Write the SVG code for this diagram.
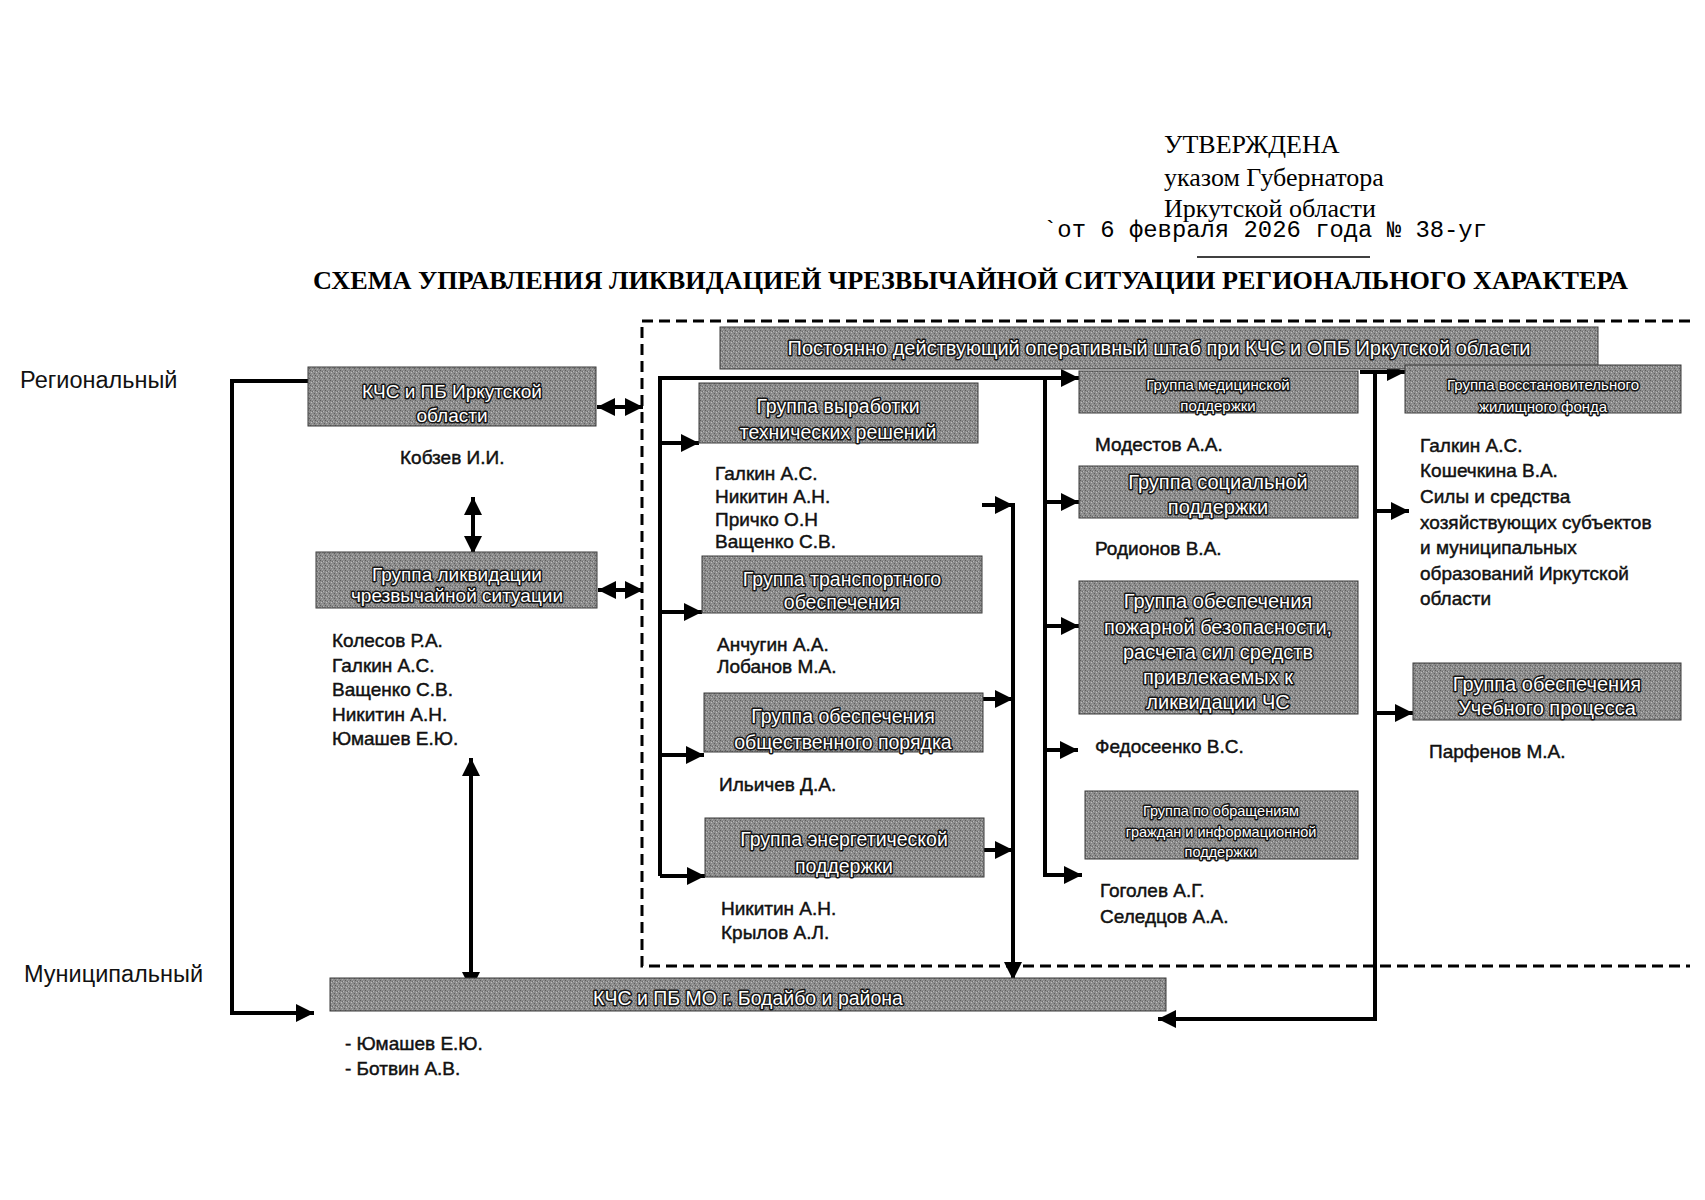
<svg xmlns="http://www.w3.org/2000/svg" width="1705" height="1200" viewBox="0 0 1705 1200">
<style>
.bg{fill:#fff}
.box{fill:url(#grain);stroke:#3a3a3a;stroke-width:1}
.bt{font-family:"Liberation Sans",Arial,sans-serif;fill:#fff;stroke:#151515;stroke-width:3;paint-order:stroke;stroke-linejoin:round;text-anchor:middle}
.nm{font-family:"Liberation Sans",Arial,sans-serif;font-size:19px;fill:#111;stroke:#111;stroke-width:0.45}
.lvl{font-family:"Liberation Sans",Arial,sans-serif;font-size:23.5px;fill:#111}
.hd{font-family:"Liberation Serif","Times New Roman",serif;font-size:26px;fill:#000}
.ln{fill:none;stroke:#000;stroke-width:4}
.ar{marker-end:url(#ah)}
.da{marker-start:url(#ah);marker-end:url(#ah)}
.dash{fill:none;stroke:#000;stroke-width:3;stroke-dasharray:11 6}
</style>
<defs>
<marker id="ah" viewBox="0 0 18 18" refX="18" refY="9" markerWidth="18" markerHeight="18" markerUnits="userSpaceOnUse" orient="auto-start-reverse">
<path d="M0,0 L18,9 L0,18 z" fill="#000"/>
</marker>
<pattern id="grain" x="0" y="0" width="5" height="5" patternUnits="userSpaceOnUse">
<rect width="5" height="5" fill="#8c8c8c"/>
<rect x="0" y="0" width="1" height="1" fill="#5e5e5e"/>
<rect x="3" y="1" width="1" height="1" fill="#b4b4b4"/>
<rect x="1" y="2" width="1" height="1" fill="#bdbdbd"/>
<rect x="4" y="3" width="1" height="1" fill="#606060"/>
<rect x="2" y="4" width="1" height="1" fill="#a9a9a9"/>
<rect x="2" y="1" width="1" height="1" fill="#6a6a6a"/>
</pattern>
</defs>
<rect class="bg" x="0" y="0" width="1705" height="1200"/>

<g id="header">
<text class="hd" x="1164" y="153">УТВЕРЖДЕНА</text>
<text class="hd" x="1164" y="186">указом Губернатора</text>
<text class="hd" x="1164" y="217">Иркутской области</text>
<text x="1043" y="237" font-family="'Liberation Mono','Courier New',monospace" font-size="23.5px" textLength="444" lengthAdjust="spacingAndGlyphs">`от 6 февраля 2026 года № 38-уг</text>
<line x1="1197" y1="257" x2="1370" y2="257" stroke="#000" stroke-width="1.5"/>
<text x="313" y="289" font-family="'Liberation Serif','Times New Roman',serif" font-weight="bold" font-size="25px" textLength="1315" lengthAdjust="spacingAndGlyphs">СХЕМА УПРАВЛЕНИЯ ЛИКВИДАЦИЕЙ ЧРЕЗВЫЧАЙНОЙ СИТУАЦИИ РЕГИОНАЛЬНОГО ХАРАКТЕРА</text>
</g>

<g id="levels">
<text class="lvl" x="20" y="388">Региональный</text>
<text class="lvl" x="24" y="982">Муниципальный</text>
</g>

<path id="op-area" class="dash" d="M1690,321 H642 V966 H1690"/>

<g id="connectors">
<path class="ln ar" d="M308,381 H232 V1013 H314"/>
<path class="ln da" d="M597,407 H643"/>
<path class="ln da" d="M598,590 H643"/>
<path class="ln da" d="M473,497 V554"/>
<path class="ln da" d="M471,758 V990"/>
<path class="ln" d="M1045,378 H660 V876"/>
<path class="ln ar" d="M660,443 H699"/>
<path class="ln ar" d="M660,612 H702"/>
<path class="ln ar" d="M660,755 H704"/>
<path class="ln ar" d="M660,876 H705"/>
<path class="ln ar" d="M982,505 H1013"/>
<path class="ln ar" d="M983,699 H1013"/>
<path class="ln ar" d="M984,850 H1013"/>
<path class="ln ar" d="M1013,503 V980"/>
<path class="ln ar" d="M1045,378 H1079"/>
<path class="ln ar" d="M1045,378 V875 H1082"/>
<path class="ln ar" d="M1045,502 H1079"/>
<path class="ln ar" d="M1045,626 H1079"/>
<path class="ln ar" d="M1045,750 H1078"/>
<path class="ln ar" d="M1360,372 H1405"/>
<path class="ln ar" d="M1375,372 V1019 H1158"/>
<path class="ln ar" d="M1375,511 H1409"/>
<path class="ln ar" d="M1375,713 H1413"/>
</g>

<g id="n-kchs-region">
<rect class="box" x="308" y="367" width="288" height="59"/>
<text class="bt" font-size="19px" x="452" y="398">КЧС и ПБ Иркутской</text>
<text class="bt" font-size="19px" x="452" y="422">области</text>
<text class="nm" x="400" y="464">Кобзев И.И.</text>
</g>

<g id="n-liquidation">
<rect class="box" x="316" y="552" width="281" height="56"/>
<text class="bt" font-size="19px" x="457" y="581">Группа ликвидации</text>
<text class="bt" font-size="19px" x="457" y="602">чрезвычайной ситуации</text>
<text class="nm" x="332" y="647">Колесов Р.А.</text>
<text class="nm" x="332" y="671.5">Галкин А.С.</text>
<text class="nm" x="332" y="696">Ващенко С.В.</text>
<text class="nm" x="332" y="720.5">Никитин А.Н.</text>
<text class="nm" x="332" y="745">Юмашев Е.Ю.</text>
</g>

<g id="n-hq">
<rect class="box" x="720" y="327" width="878" height="42"/>
<text class="bt" font-size="20px" x="1159" y="355">Постоянно действующий оперативный штаб при КЧС и ОПБ Иркутской области</text>
</g>

<g id="n-tech">
<rect class="box" x="699" y="383" width="279" height="60"/>
<text class="bt" font-size="19.5px" x="838" y="413">Группа выработки</text>
<text class="bt" font-size="19.5px" x="838" y="439">технических решений</text>
<text class="nm" x="715" y="480">Галкин А.С.</text>
<text class="nm" x="715" y="503">Никитин А.Н.</text>
<text class="nm" x="715" y="525.5">Причко О.Н</text>
<text class="nm" x="715" y="548">Ващенко С.В.</text>
</g>

<g id="n-transport">
<rect class="box" x="702" y="556" width="280" height="57"/>
<text class="bt" font-size="19.5px" x="842" y="586">Группа транспортного</text>
<text class="bt" font-size="19.5px" x="842" y="609">обеспечения</text>
<text class="nm" x="717" y="651">Анчугин А.А.</text>
<text class="nm" x="717" y="673">Лобанов М.А.</text>
</g>

<g id="n-order">
<rect class="box" x="704" y="693" width="279" height="59"/>
<text class="bt" font-size="19.5px" x="843" y="723">Группа обеспечения</text>
<text class="bt" font-size="19.5px" x="843" y="749">общественного порядка</text>
<text class="nm" x="719" y="791">Ильичев Д.А.</text>
</g>

<g id="n-energy">
<rect class="box" x="705" y="818" width="279" height="59"/>
<text class="bt" font-size="19.5px" x="844" y="846">Группа энергетической</text>
<text class="bt" font-size="19.5px" x="844" y="873">поддержки</text>
<text class="nm" x="721" y="915">Никитин А.Н.</text>
<text class="nm" x="721" y="939">Крылов А.Л.</text>
</g>

<g id="n-medical">
<rect class="box" x="1079" y="371" width="279" height="42"/>
<text class="bt" font-size="15px" stroke-width="2.4" x="1218" y="390">Группа  медицинской</text>
<text class="bt" font-size="15px" stroke-width="2.4" x="1218" y="411">поддержки</text>
<text class="nm" x="1095" y="451">Модестов А.А.</text>
</g>

<g id="n-social">
<rect class="box" x="1079" y="466" width="279" height="52"/>
<text class="bt" font-size="20px" x="1218" y="489">Группа социальной</text>
<text class="bt" font-size="20px" x="1218" y="514">поддержки</text>
<text class="nm" x="1095" y="555">Родионов В.А.</text>
</g>

<g id="n-fire">
<rect class="box" x="1079" y="581" width="279" height="133"/>
<text class="bt" font-size="20px" x="1218" y="608">Группа обеспечения</text>
<text class="bt" font-size="20px" x="1218" y="634">пожарной безопасности,</text>
<text class="bt" font-size="20px" x="1218" y="659">расчета сил средств</text>
<text class="bt" font-size="20px" x="1218" y="684">привлекаемых к</text>
<text class="bt" font-size="20px" x="1218" y="709">ликвидации ЧС</text>
<text class="nm" x="1095" y="753">Федосеенко В.С.</text>
</g>

<g id="n-appeals">
<rect class="box" x="1085" y="791" width="273" height="68"/>
<text class="bt" font-size="14.5px" stroke-width="2.4" x="1221" y="816">Группа по обращениям</text>
<text class="bt" font-size="14.5px" stroke-width="2.4" x="1221" y="837">граждан и информационной</text>
<text class="bt" font-size="14.5px" stroke-width="2.4" x="1221" y="857">поддержки</text>
<text class="nm" x="1100" y="897">Гоголев А.Г.</text>
<text class="nm" x="1100" y="923">Селедцов А.А.</text>
</g>

<g id="n-housing">
<rect class="box" x="1405" y="365" width="276" height="48"/>
<text class="bt" font-size="15px" stroke-width="2.4" x="1543" y="390">Группа  восстановительного</text>
<text class="bt" font-size="15px" stroke-width="2.4" x="1543" y="412">жилищного фонда</text>
<text class="nm" x="1420" y="452" font-size="19.5px">Галкин А.С.</text>
<text class="nm" x="1420" y="477" font-size="19.5px">Кошечкина В.А.</text>
<text class="nm" x="1420" y="503" font-size="19.5px">Силы и средства</text>
<text class="nm" x="1420" y="529" font-size="19.5px">хозяйствующих субъектов</text>
<text class="nm" x="1420" y="554" font-size="19.5px">и муниципальных</text>
<text class="nm" x="1420" y="580" font-size="19.5px">образований Иркутской</text>
<text class="nm" x="1420" y="605" font-size="19.5px">области</text>
</g>

<g id="n-education">
<rect class="box" x="1413" y="663" width="268" height="57"/>
<text class="bt" font-size="20px" x="1547" y="691">Группа обеспечения</text>
<text class="bt" font-size="20px" x="1547" y="715">Учебного процесса</text>
<text class="nm" x="1429" y="758">Парфенов М.А.</text>
</g>

<g id="n-kchs-municipal">
<rect class="box" x="330" y="978" width="836" height="33"/>
<text class="bt" font-size="19.5px" x="748" y="1005">КЧС и ПБ МО г. Бодайбо и района</text>
<text class="nm" x="345" y="1050">- Юмашев  Е.Ю.</text>
<text class="nm" x="345" y="1075">- Ботвин А.В.</text>
</g>
</svg>
